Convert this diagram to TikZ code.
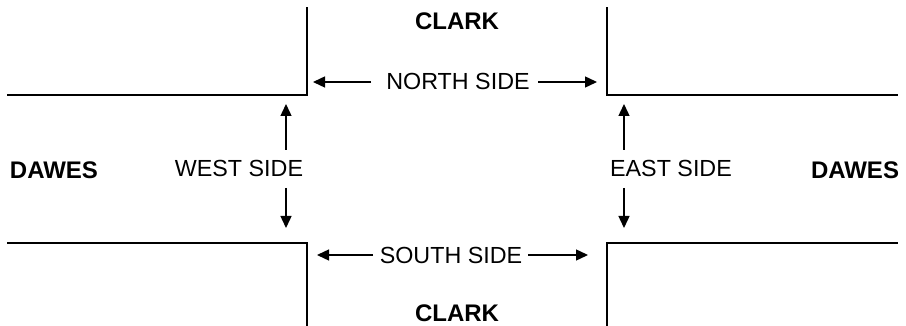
\documentclass[tikz,border=0pt]{standalone}
\usepackage{fontspec}
\setmainfont{Liberation Sans}
\usetikzlibrary{arrows.meta}
\begin{document}
\begin{tikzpicture}[x=1pt,y=-1pt,
  street/.style={line width=2pt,line cap=rect},
  sidearrow/.style={line width=1.4pt,-{Triangle[length=12pt,width=11pt]}},
  sidelabel/.style={inner sep=0pt,font=\fontsize{23.3}{27}\selectfont},
  streetlabel/.style={inner sep=0pt,font=\fontsize{24}{28}\selectfont\bfseries}]
\useasboundingbox (0,0) rectangle (906,326);
% street corners
\draw[street] (8,95) -- (307,95) -- (307,8);
\draw[street] (607,8) -- (607,95) -- (897,95);
\draw[street] (8,243) -- (307,243) -- (307,326);
\draw[street] (607,326) -- (607,243) -- (897,243);
% street names
\node[streetlabel] (clarkN) at (457,21) {CLARK};
\node[streetlabel] (clarkS) at (457,313) {CLARK};
\node[streetlabel] (dawesW) at (54,170) {DAWES};
\node[streetlabel] (dawesE) at (855,170) {DAWES};
% side labels
\node[sidelabel] (north) at (458,81) {NORTH SIDE};
\node[sidelabel] (south) at (451,255) {SOUTH SIDE};
\node[sidelabel] (west) at (239,168) {WEST SIDE};
\node[sidelabel] (east) at (671,168) {EAST SIDE};
% arrow ends
\coordinate (nL0) at (371,82); \coordinate (nL1) at (313,82);
\coordinate (nR0) at (538,82); \coordinate (nR1) at (597,82);
\coordinate (sL0) at (373,255); \coordinate (sL1) at (317,255);
\coordinate (sR0) at (528,255); \coordinate (sR1) at (588,255);
\coordinate (wU0) at (286,150); \coordinate (wU1) at (286,104);
\coordinate (wD0) at (286,188); \coordinate (wD1) at (286,228);
\coordinate (eU0) at (624,150); \coordinate (eU1) at (624,104);
\coordinate (eD0) at (624,188); \coordinate (eD1) at (624,228);
\draw[sidearrow] (nL0) -- (nL1);
\draw[sidearrow] (nR0) -- (nR1);
\draw[sidearrow] (sL0) -- (sL1);
\draw[sidearrow] (sR0) -- (sR1);
\draw[sidearrow] (wU0) -- (wU1);
\draw[sidearrow] (wD0) -- (wD1);
\draw[sidearrow] (eU0) -- (eU1);
\draw[sidearrow] (eD0) -- (eD1);
\end{tikzpicture}
\end{document}
